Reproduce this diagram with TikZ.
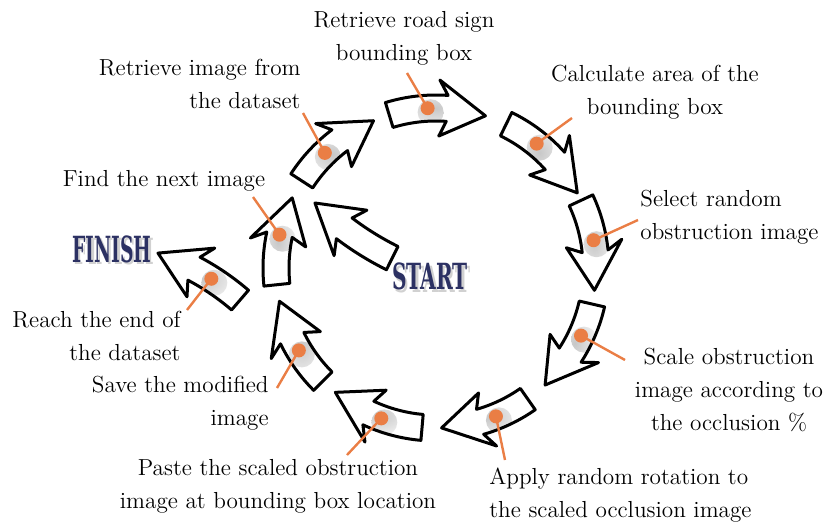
\documentclass[tikz,border=0pt]{standalone}
\usepackage{fontspec}
\newfontfamily\bannerfont{DejaVu Serif}
\usetikzlibrary{calc}
\definecolor{dotorange}{HTML}{EA7E45}
\definecolor{bannerblue}{HTML}{2C3163}
\tikzset{
  arrowbody/.style={draw=black, fill=white, line width=1.5pt, line join=round},
  glow/.style={path picture={\shade[inner color=black!22, outer color=white] ($(#1)+(3,-4)$) circle[radius=13];}},
  connector/.style={draw=dotorange, line width=1.2pt},
  cyclelabel/.style={font=\fontsize{11.6}{16.5}\selectfont, inner sep=0pt},
  banner/.style={font=\bannerfont\bfseries\fontsize{18}{18}\selectfont, text=bannerblue, inner sep=0pt},
  bannershadow/.style={banner, text=black!18}
}
% curved block arrow: [options]{centre}{radius}{start}{end}{head}{dot angle}{name}
\newcommand{\cyclearrow}[8][]{%
  \pgfmathsetmacro\rout{#3+13}\pgfmathsetmacro\rin{#3-13}%
  \pgfmathsetmacro\hout{#3+28}\pgfmathsetmacro\hin{#3-28}%
  \pgfmathsetmacro\hbase{#5+#6}\pgfmathsetmacro\hbarb{#5+1.2*#6}%
  \begin{scope}[shift={(#2)}]
    \coordinate (#8) at (#7:#3);
    \path[arrowbody, #1] (#4:\rout) arc[start angle=#4, end angle=\hbase, radius=\rout]
      -- (\hbarb:\hout) -- (#5:#3) -- (\hbarb:\hin) -- (\hbase:\rin)
      arc[start angle=\hbase, end angle=#4, radius=\rin] -- cycle;
  \end{scope}}
\begin{document}
\begin{tikzpicture}[x=0.5pt, y=0.5pt]
  \useasboundingbox (0,0) rectangle (829,521);
  \foreach \name/\as/\ae/\ad in {roadsign/107/72/93, area/64/28/51, select/25/-8/10,
      scale/-13/-47/-25, rotate/-55/-88/-68, paste/-95/-129/-110,
      save/-135/-168/-149, next/186/154/168, dataset/147/113/134}
    \cyclearrow[glow=\name]{436,253}{160}{\as}{\ae}{14}{\ad}{\name};
  \cyclearrow[glow=finish]{77,31.4}{250}{49.3}{71.1}{-9}{57.5}{finish}
  \cyclearrow{525.6,531.6}{300}{-116.4}{-134.6}{7.4}{-125}{start}

  \foreach \name/\x/\y in {roadsign/407/448, dataset/303/408, area/572/403,
      next/253/324, finish/187/211, save/277/133, select/638/301,
      scale/625/161, rotate/505/61, paste/347/66} {
    \coordinate (\name end) at (\x,\y);
    \draw[connector] (\name) -- (\name end);
    \fill[dotorange] (\name) circle[radius=7];
  }

  \node[cyclelabel, align=center] (roadsigntext) at (404,482.5) {Retrieve road sign\\bounding box};
  \node[cyclelabel, align=right, anchor=east] (datasettext) at (301,437) {Retrieve image from\\the dataset};
  \node[cyclelabel, align=center] (areatext) at (655,429) {Calculate area of the\\bounding box};
  \node[cyclelabel] (nexttext) at (164,340) {Find the next image};
  \node[cyclelabel, align=left, anchor=west] (selecttext) at (640,303.5) {Select random\\obstruction image};
  \node[cyclelabel, align=right, anchor=east] (finishtext) at (181,185) {Reach the end of\\the dataset};
  \node[cyclelabel, align=right, anchor=east] (savetext) at (269,117.5) {Save the modified\\image};
  \node[cyclelabel, align=center] (scaletext) at (729,131) {Scale obstruction\\image according to\\the occlusion \%};
  \node[cyclelabel, align=left, anchor=west] (rotatetext) at (489,25.5) {Apply random rotation to\\the scaled occlusion image};
  \node[cyclelabel, align=center] (pastetext) at (278,34.5) {Paste the scaled obstruction\\image at bounding box location};

  \node[bannershadow] (finishshadow) at (114.5,269.5) {\scalebox{0.52}[1]{FINISH}};
  \node[banner] (finishlabel) at (112,272) {\scalebox{0.52}[1]{FINISH}};
  \node[bannershadow] (startshadow) at (432.5,242) {\scalebox{0.56}[1]{START}};
  \node[banner] (startlabel) at (430,244.5) {\scalebox{0.56}[1]{START}};
\end{tikzpicture}
\end{document}
